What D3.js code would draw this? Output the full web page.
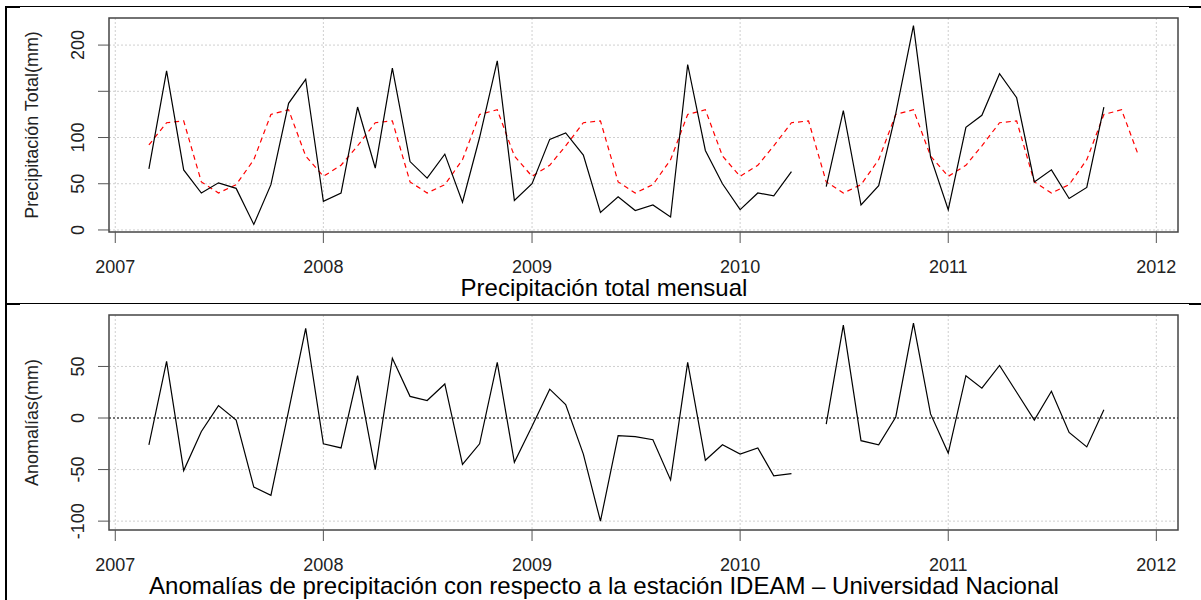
<!DOCTYPE html>
<html>
<head>
<meta charset="utf-8">
<script src="https://cdn.jsdelivr.net/npm/d3@7"></script>
<style>
  body { margin: 0; background: #fff; }
  text { font-family: Arial, "Liberation Sans", sans-serif; }
</style>
</head>
<body>
<div class="display"></div>
<script>
// Precipitacion mensual y anomalias, two stacked panels

const WIDTH = 1201;
const HEIGHT = 600;

// monthly totals, Mar 2007 .. Oct 2011 (May 2010 missing)
const precip = [
  66, 172, 65, 40, 51, 45, 6, 49, 137, 163,
  31, 40, 133, 67, 175, 74, 56, 82, 30, 100, 183, 32,
  50, 98, 105, 81, 19, 36, 21, 27, 14, 179, 86, 50,
  22, 40, 37, 63, null, 47, 129, 27, 48, 126, 221, 79,
  22, 111, 124, 169, 143, 52, 65, 34, 46, 133
];

// reference station monthly means (red dashed), Mar 2007 .. Dec 2011
const reference = [
  92, 116, 118, 52, 40, 49, 76, 125, 130, 80,
  58, 70, 91, 116, 118, 52, 40, 49, 76, 125, 130, 80,
  58, 70, 91, 116, 118, 52, 40, 49, 76, 125, 130, 80,
  58, 70, 91, 116, 118, 52, 40, 49, 76, 125, 130, 80,
  58, 70, 91, 116, 118, 52, 40, 49, 76, 125, 130, 80
];

// anomalies, Mar 2007 .. Oct 2011
const anomalies = [
  -26, 55, -51, -13, 12, -2, -67, -75, 7, 87,
  -25, -29, 41, -50, 58, 21, 17, 33, -45, -25, 54, -43,
  -8, 28, 13, -35, -100, -17, -18, -21, -60, 54, -41, -26,
  -35, -29, -56, -54, null, -6, 90, -22, -26, 1, 92, 4,
  -34, 41, 29, 51, 25, -2, 26, -14, -28, 8
];

const years = [2007, 2008, 2009, 2010, 2011, 2012];
const topTicks = [0, 50, 100, 150, 200];
const topLabels = [0, 50, 100, 200];
const bottomTicks = [-100, -50, 0, 50];

const startMonth = new Date(2007, 2, 1);

function withDates(values) {
  return values.map((v, i) => ({ date: d3.timeMonth.offset(startMonth, i), v: v }));
}

const svg = d3.select('.display')
  .append('svg')
  .attr('width', WIDTH)
  .attr('height', HEIGHT);

// table frame around the figure
const frame = svg.append('g').attr('fill', '#000');
frame.append('rect').attr('x', 6).attr('y', 6).attr('width', 1183).attr('height', 1);
frame.append('rect').attr('x', 5).attr('y', 6).attr('width', 2).attr('height', 594);
frame.append('rect').attr('x', 6).attr('y', 6).attr('width', 14).attr('height', 2);
frame.append('rect').attr('x', 1189).attr('y', 6).attr('width', 12).attr('height', 2);
frame.append('rect').attr('x', 6).attr('y', 303).attr('width', 1183).attr('height', 1);
frame.append('rect').attr('x', 6).attr('y', 303).attr('width', 14).attr('height', 2);
frame.append('rect').attr('x', 1189).attr('y', 303).attr('width', 12).attr('height', 2);

const x = d3.scaleTime()
  .domain([new Date(2006, 11, 21), new Date(2012, 1, 8)])
  .range([109, 1178]);

function drawPanel(opts) {
  const g = svg.append('g');
  const y = d3.scaleLinear().domain(opts.domain).range([opts.bottom, opts.top]);

  // grid
  g.selectAll('.hgrid').data(opts.ticks).enter().append('line')
    .attr('x1', 109).attr('x2', 1178)
    .attr('y1', d => y(d)).attr('y2', d => y(d))
    .attr('stroke', '#cfcfcf').attr('stroke-dasharray', '2,2');
  g.selectAll('.vgrid').data(years).enter().append('line')
    .attr('x1', d => x(new Date(d, 0, 1))).attr('x2', d => x(new Date(d, 0, 1)))
    .attr('y1', opts.top).attr('y2', opts.bottom)
    .attr('stroke', '#cfcfcf').attr('stroke-dasharray', '2,2');

  if (opts.zeroLine) {
    g.append('line')
      .attr('x1', 109).attr('x2', 1178)
      .attr('y1', y(0)).attr('y2', y(0))
      .attr('stroke', '#000').attr('stroke-dasharray', '2,2');
  }

  const line = d3.line()
    .defined(d => d.v != null)
    .x(d => x(d.date))
    .y(d => y(d.v));

  opts.series.forEach(s => {
    g.append('path')
      .datum(withDates(s.values))
      .attr('fill', 'none')
      .attr('stroke', s.color)
      .attr('stroke-width', 1.2)
      .attr('stroke-dasharray', s.dash || null)
      .attr('d', line);
  });

  // box
  g.append('rect')
    .attr('x', 109).attr('y', opts.top)
    .attr('width', 1178 - 109).attr('height', opts.bottom - opts.top)
    .attr('fill', 'none').attr('stroke', '#444').attr('stroke-width', 1.5);

  // y axis
  const yAxis = g.append('g').attr('transform', 'translate(109,0)');
  yAxis.selectAll('line').data(opts.ticks).enter().append('line')
    .attr('x1', -11).attr('x2', 0)
    .attr('y1', d => y(d)).attr('y2', d => y(d))
    .attr('stroke', '#555');
  yAxis.selectAll('text').data(opts.labels).enter().append('text')
    .attr('transform', d => `translate(-25,${y(d)}) rotate(-90)`)
    .attr('text-anchor', 'middle')
    .attr('font-size', 18)
    .attr('fill', '#222')
    .text(d => d);

  // x axis
  const xAxis = g.append('g').attr('transform', `translate(0,${opts.bottom})`);
  xAxis.selectAll('line').data(years).enter().append('line')
    .attr('x1', d => x(new Date(d, 0, 1))).attr('x2', d => x(new Date(d, 0, 1)))
    .attr('y1', 0).attr('y2', 11)
    .attr('stroke', '#555');
  xAxis.selectAll('text').data(years).enter().append('text')
    .attr('x', d => x(new Date(d, 0, 1)))
    .attr('y', 40.5)
    .attr('text-anchor', 'middle')
    .attr('font-size', 18)
    .attr('fill', '#222')
    .text(d => d);

  // axis title
  g.append('text')
    .attr('transform', `translate(38,${(opts.top + opts.bottom) / 2}) rotate(-90)`)
    .attr('text-anchor', 'middle')
    .attr('font-size', 18)
    .attr('fill', '#222')
    .text(opts.ylabel);

  g.append('text')
    .attr('x', 604)
    .attr('y', opts.titleY)
    .attr('text-anchor', 'middle')
    .attr('font-size', 24)
    .attr('fill', '#000')
    .text(opts.title);
}

drawPanel({
  top: 18, bottom: 232,
  domain: [-2.2, 229.3],
  ticks: topTicks, labels: topLabels,
  ylabel: 'Precipitación Total(mm)',
  title: 'Precipitación total mensual',
  titleY: 296,
  series: [
    { values: reference, color: '#ff0000', dash: '5,4' },
    { values: precip, color: '#000' }
  ]
});

drawPanel({
  top: 315, bottom: 530,
  domain: [-108.6, 99.9],
  ticks: bottomTicks, labels: bottomTicks,
  ylabel: 'Anomalías(mm)',
  title: 'Anomalías de precipitación con respecto a la estación IDEAM – Universidad Nacional',
  titleY: 594,
  zeroLine: true,
  series: [
    { values: anomalies, color: '#000' }
  ]
});
</script>
</body>
</html>
